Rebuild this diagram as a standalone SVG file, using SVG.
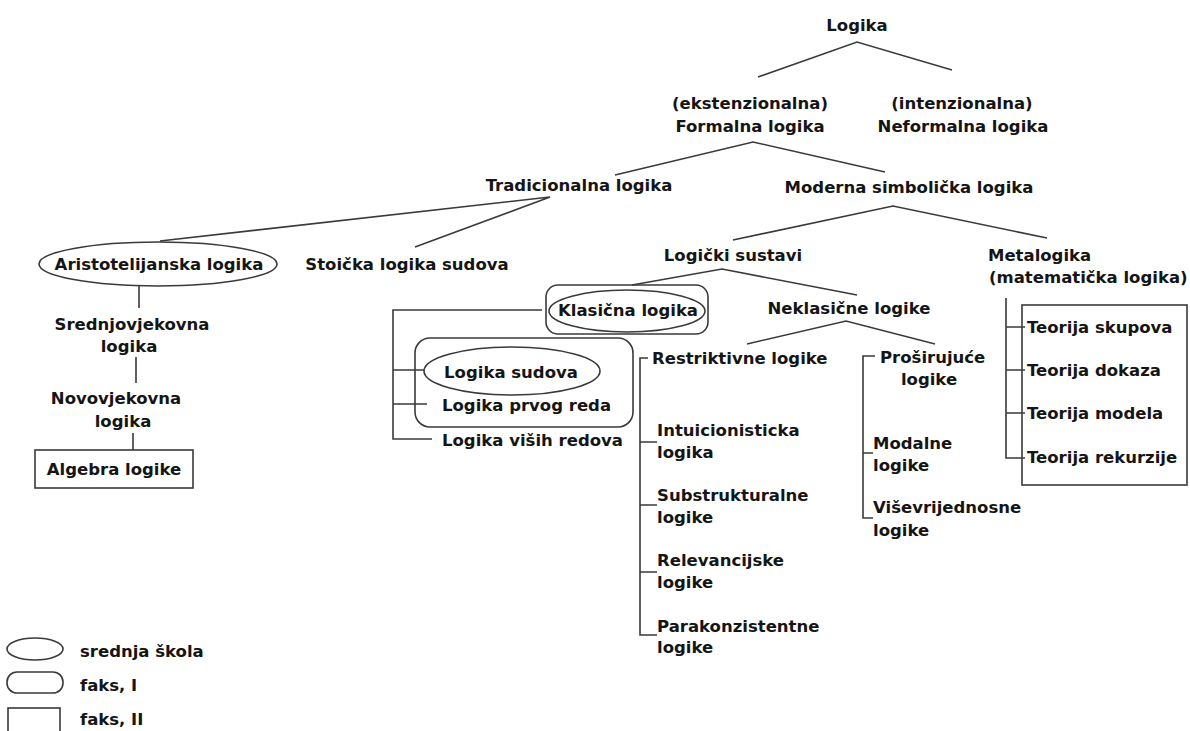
<svg xmlns="http://www.w3.org/2000/svg" width="1190" height="731" viewBox="0 0 1190 731">
<style>
text{font-family:"DejaVu Sans","Liberation Sans",sans-serif;font-weight:bold;font-size:16.5px;fill:#151515}
.m{text-anchor:middle}
.ln{fill:none;stroke:#3a3a3a;stroke-width:1.6}
.sh{fill:none;stroke:#3a3a3a;stroke-width:1.6}
</style>
<rect width="1190" height="731" fill="#fff"/>
<g id="connectors" class="ln">
<path d="M758,77 L857,42 L952,70"/>
<path d="M615,175 L753,142 L885,172"/>
<path d="M160,241 L550,197 L415,247"/>
<path d="M733,240 L893,206 L1047,238"/>
<path d="M632,285 L722,269 L857,295"/>
<path d="M747,344 L846,321 L935,344"/>
<path d="M139,286 V308 M136,357 V383 M133,433 V450"/>
<path d="M542,310 H393 V439 H432 M393,370 H424 M393,404 H427"/>
<path d="M648,358 H640 V635 H657 M640,442 H657 M640,505 H657 M640,572 H657"/>
<path d="M875,356 H863 V518 H873 M863,453 H873"/>
<path d="M1006,298 V458 H1025 M1006,327 H1025 M1006,370 H1025 M1006,413 H1025"/>
</g>
<g id="logika"><text class="m" x="857" y="31">Logika</text></g>
<g id="formalna"><text class="m" x="750" y="109">(ekstenzionalna)</text><text class="m" x="750" y="132">Formalna logika</text></g>
<g id="neformalna"><text class="m" x="962" y="109">(intenzionalna)</text><text class="m" x="963" y="132">Neformalna logika</text></g>
<g id="tradicionalna"><text class="m" x="579" y="191">Tradicionalna logika</text></g>
<g id="moderna"><text class="m" x="909" y="193">Moderna simbolička logika</text></g>
<g id="aristotelijanska"><ellipse class="sh" cx="158" cy="264" rx="119" ry="22"/><text class="m" x="159" y="270">Aristotelijanska logika</text></g>
<g id="stoicka"><text class="m" x="407" y="270">Stoička logika sudova</text></g>
<g id="srednjovjekovna"><text class="m" x="132" y="330">Srednjovjekovna</text><text class="m" x="129" y="352">logika</text></g>
<g id="novovjekovna"><text class="m" x="116" y="404">Novovjekovna</text><text class="m" x="123" y="427">logika</text></g>
<g id="algebra"><rect class="sh" x="35" y="450" width="158" height="38"/><text class="m" x="114" y="475">Algebra logike</text></g>
<g id="sustavi"><text class="m" x="733" y="261">Logički sustavi</text></g>
<g id="metalogika"><text x="988" y="261">Metalogika</text><text x="989" y="283">(matematička logika)</text></g>
<g id="klasicna"><rect class="sh" x="546" y="285" width="162" height="49" rx="12"/><ellipse class="sh" cx="627" cy="311" rx="78" ry="21"/><text class="m" x="628" y="316">Klasična logika</text></g>
<g id="neklasicne"><text class="m" x="849" y="314">Neklasične logike</text></g>
<g id="klasicna-grupa"><rect class="sh" x="415" y="338" width="218" height="89" rx="15"/></g>
<g id="sudova"><ellipse class="sh" cx="512" cy="371" rx="88" ry="24"/><text class="m" x="511" y="378">Logika sudova</text></g>
<g id="prvog"><text x="442" y="411">Logika prvog reda</text></g>
<g id="visih"><text x="442" y="446">Logika viših redova</text></g>
<g id="restriktivne"><text x="652" y="364">Restriktivne logike</text></g>
<g id="intuicionisticka"><text x="657" y="436">Intuicionisticka</text><text x="657" y="458">logika</text></g>
<g id="substrukturalne"><text x="657" y="501">Substrukturalne</text><text x="657" y="523">logike</text></g>
<g id="relevancijske"><text x="657" y="566">Relevancijske</text><text x="657" y="588">logike</text></g>
<g id="parakonzistentne"><text x="657" y="632">Parakonzistentne</text><text x="657" y="653">logike</text></g>
<g id="prosirujuce"><text x="880" y="363">Proširujuće</text><text class="m" x="929" y="385">logike</text></g>
<g id="modalne"><text x="873" y="449">Modalne</text><text x="873" y="471">logike</text></g>
<g id="visevrijednosne"><text x="873" y="513">Viševrijednosne</text><text x="873" y="536">logike</text></g>
<g id="teorije"><rect class="sh" x="1022" y="305" width="165" height="180"/>
<text x="1027" y="333">Teorija skupova</text>
<text x="1027" y="376">Teorija dokaza</text>
<text x="1027" y="419">Teorija modela</text>
<text x="1027" y="463">Teorija rekurzije</text></g>
<g id="legenda">
<ellipse class="sh" cx="35" cy="649" rx="28" ry="11"/><text x="80" y="657">srednja škola</text>
<rect class="sh" x="7" y="672" width="56" height="21" rx="10"/><text x="80" y="691">faks, I</text>
<rect class="sh" x="8" y="708" width="52" height="30"/><text x="80" y="725">faks, II</text>
</g>
</svg>
